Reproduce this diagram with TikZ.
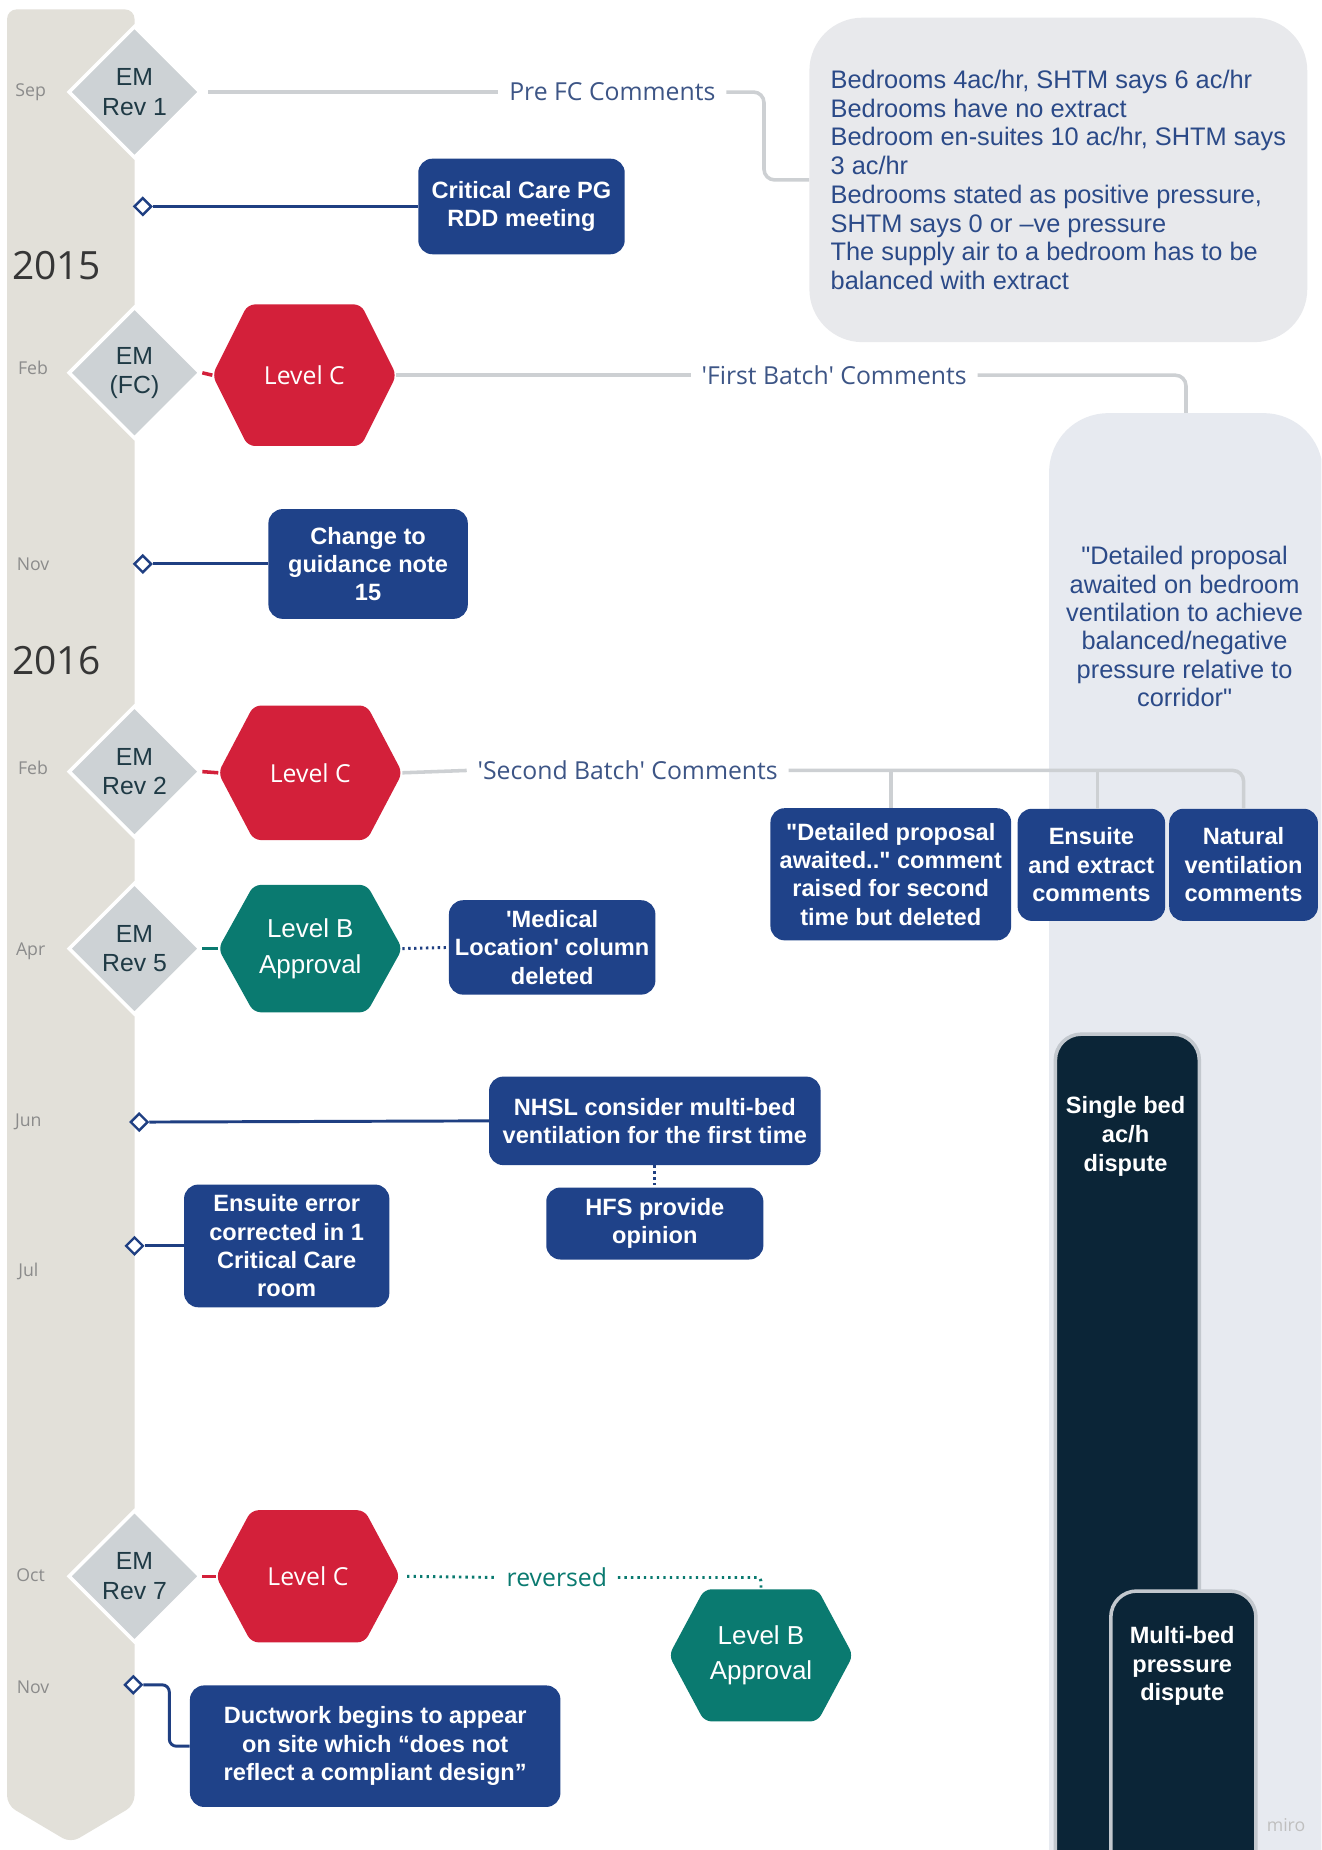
\documentclass[tikz,border=0pt]{standalone}
\usepackage{fontspec}
\setmainfont{Liberation Sans}[Ligatures=TeXOff]
\newfontfamily\opensans{Open Sans}[Ligatures=TeXOff]
\usetikzlibrary{shapes.geometric}

\definecolor{barbeige}{HTML}{E2E0D9}
\definecolor{emgray}{HTML}{CDD2D5}
\definecolor{emtext}{HTML}{1F3A45}
\definecolor{lvlred}{HTML}{D3203A}
\definecolor{lvlteal}{HTML}{0A7A70}
\definecolor{boxblue}{HTML}{1F4289}
\definecolor{navy}{HTML}{0B2537}
\definecolor{navyedge}{HTML}{C3C8CE}
\definecolor{panelfill}{HTML}{E8E9EC}
\definecolor{tallfill}{HTML}{E7EAF0}
\definecolor{linkgray}{HTML}{CDD0D3}
\definecolor{labelblue}{HTML}{3D5586}
\definecolor{paneltext}{HTML}{2B4A88}
\definecolor{monthgray}{HTML}{8B8B8B}
\definecolor{yeargray}{HTML}{363636}
\definecolor{linkblue}{HTML}{1F3F82}

% hexagon milestone: name, x, y, half height, colour, font, text
\newcommand{\hexat}[7]{%
  \fill[#5, rounded corners=6] ({#2-78},#3) -- ({#2-48},{#3-#4}) -- ({#2+48},{#3-#4})
     -- ({#2+78},#3) -- ({#2+48},{#3+#4}) -- ({#2-48},{#3+#4}) -- cycle;
  \node[inner sep=0, outer sep=0, minimum width=156, minimum height={2*#4},
        text=white, align=center, font={#6}] (#1) at (#2,#3) {#7};
}

\begin{document}
\begin{tikzpicture}[x=1pt, y=-1pt,
  emdiam/.style={diamond, aspect=1, minimum width=112, minimum height=112, inner sep=0,
    fill=emgray, draw=white, line width=3, text=emtext, align=center,
    font=\fontsize{21}{25}\selectfont},
  bluebox/.style={rectangle, rounded corners=12, fill=boxblue, text=white, align=center,
    inner sep=0, font=\bfseries\fontsize{20}{24}\selectfont},
  mk/.style={diamond, aspect=1, minimum width=15, minimum height=15, inner sep=0,
    fill=white, draw=linkblue, line width=2},
  monthlbl/.style={font=\opensans\fontsize{15}{18}\selectfont, text=monthgray, inner sep=0},
  yearlbl/.style={font=\opensans\fontsize{33}{38}\selectfont, text=yeargray, inner sep=0},
  linklbl/.style={font=\opensans\fontsize{21}{25}\selectfont, text=labelblue, inner xsep=9, inner ysep=2},
  navybar/.style={rectangle, rounded corners=22, fill=navy, draw=navyedge, line width=3,
    inner sep=0, anchor=north west},
  bartext/.style={text=white, align=center, inner sep=0, font=\bfseries\fontsize{20}{24.5}\selectfont},
  glink/.style={draw=linkgray, line width=3},
  blink/.style={draw=linkblue, line width=2.5},
  bdot/.style={draw=linkblue, line width=2.5, dash pattern=on 2pt off 3pt},
  tdot/.style={draw=lvlteal, line width=2.5, dash pattern=on 2pt off 3.5pt},
  stub/.style={line width=3}
]
\clip (0,0) rectangle (1120,1568);
\fill[white] (0,0) rectangle (1120,1568);

% timeline spine
\fill[barbeige, rounded corners=8] (6,1530) -- (6,8) -- (114,8) -- (114,1530) -- (60,1562) -- cycle;

% right-hand panels
\node[fill=tallfill, rounded corners=50, minimum width=232, minimum height=1300,
      inner sep=0, anchor=north west] (tall) at (889,350) {};
\node[text=paneltext, align=center, inner sep=0, font=\fontsize{21.5}{24}\selectfont]
  (tallq) at (1004,531) {"Detailed proposal\\awaited on bedroom\\ventilation to achieve\\balanced/negative\\pressure relative to\\corridor"};

\node[fill=panelfill, rounded corners=45, minimum width=422, minimum height=275,
      inner sep=0, text=paneltext, align=left, font=\fontsize{21.5}{24.4}\selectfont]
  (panel) at (897,152.5) {Bedrooms 4ac/hr, SHTM says 6 ac/hr\\Bedrooms have no extract\\Bedroom en-suites 10 ac/hr, SHTM says\\3 ac/hr\\Bedrooms stated as positive pressure,\\SHTM says 0 or –ve pressure\\The supply air to a bedroom has to be\\balanced with extract};

\node[navybar, minimum width=122, minimum height=800] (sbed) at (893,875) {};
\node[bartext] (sbedt) at (954,963) {Single bed\\ac/h\\dispute};
\node[navybar, minimum width=123, minimum height=400] (mbed) at (940,1347) {};
\node[bartext] (mbedt) at (1002,1412) {Multi-bed\\pressure\\dispute};

% months and years
\node[monthlbl] (mSep) at (26,78) {Sep};
\node[monthlbl] (mFebA) at (28,312) {Feb};
\node[monthlbl] (mNovA) at (28,478) {Nov};
\node[monthlbl] (mFebB) at (28,651) {Feb};
\node[monthlbl] (mApr) at (26,806) {Apr};
\node[monthlbl] (mJun) at (24,951) {Jun};
\node[monthlbl] (mJul) at (24,1078) {Jul};
\node[monthlbl] (mOct) at (26,1335) {Oct};
\node[monthlbl] (mNovB) at (28,1430) {Nov};
\node[yearlbl] (y15) at (48,225) {2015};
\node[yearlbl] (y16) at (48,560) {2016};

% EM revisions
\node[emdiam] (em1) at (114,78) {EM\\Rev 1};
\node[emdiam] (em2) at (114,316) {EM\\(FC)};
\node[emdiam] (em3) at (114,654) {EM\\Rev 2};
\node[emdiam] (em4) at (114,804) {EM\\Rev 5};
\node[emdiam] (em5) at (114,1336) {EM\\Rev 7};

% approval levels
\hexat{lc1}{258}{318}{60}{lvlred}{\opensans\fontsize{21}{25}\selectfont}{Level C}
\hexat{lc2}{263}{655}{57}{lvlred}{\opensans\fontsize{21}{25}\selectfont}{Level C}
\hexat{lb1}{263}{804}{54}{lvlteal}{\fontsize{22}{30}\selectfont}{Level B\\Approval}
\hexat{lc4}{261}{1336}{56}{lvlred}{\opensans\fontsize{21}{25}\selectfont}{Level C}
\hexat{lb2}{645}{1403}{56}{lvlteal}{\fontsize{22}{30}\selectfont}{Level B\\Approval}

\draw[stub, lvlred] (em2.east) -- (lc1.west);
\draw[stub, lvlred] (em3.east) -- (lc2.west);
\draw[stub, lvlteal] (em4.east) -- (lb1.west);
\draw[stub, lvlred] (em5.east) -- (lc4.west);

% events
\node[bluebox, minimum width=175, minimum height=81] (cc) at (442,175) {Critical Care PG\\RDD meeting};
\node[bluebox, minimum width=169, minimum height=93] (guide) at (312,478) {Change to\\guidance note\\15};
\node[bluebox, minimum width=204, minimum height=112] (dp2) at (755,741) {"Detailed proposal\\awaited.." comment\\raised for second\\time but deleted};
\node[bluebox, minimum width=125, minimum height=95] (ensx) at (925,733) {Ensuite\\and extract\\comments};
\node[bluebox, minimum width=126, minimum height=95] (natv) at (1054,733) {Natural\\ventilation\\comments};
\node[bluebox, minimum width=175, minimum height=80] (med) at (468,803) {'Medical\\Location' column\\deleted};
\node[bluebox, minimum width=281, minimum height=75] (nhsl) at (555,950) {NHSL consider multi-bed\\ventilation for the first time};
\node[bluebox, minimum width=184, minimum height=61] (hfs) at (555,1037) {HFS provide\\opinion};
\node[bluebox, minimum width=174, minimum height=104] (enserr) at (243,1056) {Ensuite error\\corrected in 1\\Critical Care\\room};
\node[bluebox, minimum width=314, minimum height=103] (duct) at (318,1480) {Ductwork begins to appear\\on site which “does not\\reflect a compliant design”};

% event markers on the spine
\node[mk] (mk1) at (121,175) {};
\node[mk] (mk2) at (121,478) {};
\node[mk] (mk3) at (118,951) {};
\node[mk] (mk4) at (114,1056) {};
\node[mk] (mk5) at (113,1428) {};

\draw[blink] (mk1.east) -- (cc.west);
\draw[blink] (mk2.east) -- (guide.west);
\draw[blink] (mk3.east) -- (nhsl.west);
\draw[blink] (mk4.east) -- (enserr.west);
\draw[blink, rounded corners=6] (mk5.east) -- ++(22,0) |- (duct.west);

\draw[bdot] (lb1.east) -- (med.west);
\draw[bdot] (nhsl.south) -- (hfs.north);

% comment links
\node[linklbl] (lpre) at (519,78) {Pre FC Comments};
\draw[glink, shorten <=5] (em1.east) -- (lpre.west);
\draw[glink, rounded corners=9] (lpre.east) -- ++(32,0) |- (panel.west);

\node[linklbl] (lfb) at (707,318) {'First Batch' Comments};
\draw[glink] (lc1.east) -- (lfb.west);
\draw[glink, rounded corners=9] (lfb.east) -| (tall.north);

\node[linklbl] (lsb) at (532,653) {'Second Batch' Comments};
\draw[glink] (lc2.east) -- (lsb.west);
\draw[glink, rounded corners=9] (lsb.east) -| (natv.north);
\coordinate (br1) at (755,653);
\coordinate (br2) at (930,653);
\draw[glink] (br1) -- (br1 |- dp2.north);
\draw[glink] (br2) -- (br2 |- ensx.north);

\node[linklbl, text=lvlteal] (lrev) at (472,1337) {reversed};
\draw[tdot] (lc4.east) ++(6,0) -- (lrev.west);
\draw[tdot, rounded corners=3] (lrev.east) -| (lb2.north);

\node[font=\opensans\fontsize{15}{18}\selectfont, text=black!25, inner sep=0] (miro) at (1090,1547) {miro};
\end{tikzpicture}
\end{document}
